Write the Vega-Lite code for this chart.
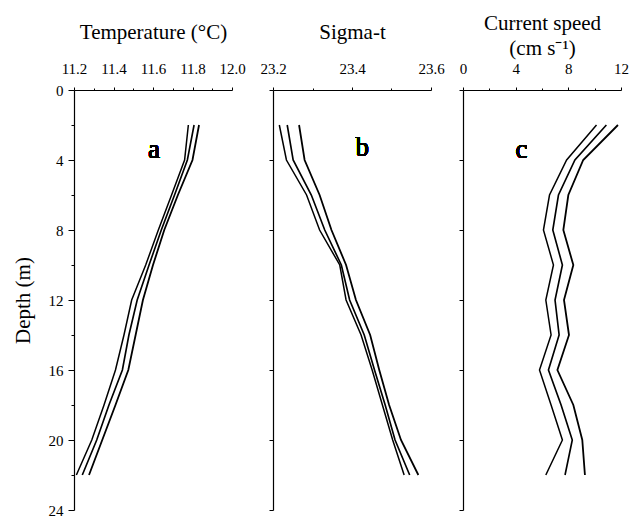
{
  "$schema": "https://vega.github.io/schema/vega-lite/v6.json",
  "padding": {"left": 12, "top": 12, "right": 5, "bottom": 2},
  "background": "white",
  "data": {"values": [
    {"panel": "a", "series": "lo", "depth": 2, "value": 11.779},
    {"panel": "a", "series": "lo", "depth": 4, "value": 11.76},
    {"panel": "a", "series": "lo", "depth": 6, "value": 11.694},
    {"panel": "a", "series": "lo", "depth": 8, "value": 11.627},
    {"panel": "a", "series": "lo", "depth": 10, "value": 11.563},
    {"panel": "a", "series": "lo", "depth": 12, "value": 11.492},
    {"panel": "a", "series": "lo", "depth": 14, "value": 11.453},
    {"panel": "a", "series": "lo", "depth": 16, "value": 11.41},
    {"panel": "a", "series": "lo", "depth": 18, "value": 11.352},
    {"panel": "a", "series": "lo", "depth": 20, "value": 11.29},
    {"panel": "a", "series": "lo", "depth": 22, "value": 11.212},
    {"panel": "a", "series": "mean", "depth": 2, "value": 11.808},
    {"panel": "a", "series": "mean", "depth": 4, "value": 11.774},
    {"panel": "a", "series": "mean", "depth": 6, "value": 11.709},
    {"panel": "a", "series": "mean", "depth": 8, "value": 11.642},
    {"panel": "a", "series": "mean", "depth": 10, "value": 11.58},
    {"panel": "a", "series": "mean", "depth": 12, "value": 11.52},
    {"panel": "a", "series": "mean", "depth": 14, "value": 11.478},
    {"panel": "a", "series": "mean", "depth": 16, "value": 11.445},
    {"panel": "a", "series": "mean", "depth": 18, "value": 11.377},
    {"panel": "a", "series": "mean", "depth": 20, "value": 11.315},
    {"panel": "a", "series": "mean", "depth": 22, "value": 11.242},
    {"panel": "a", "series": "hi", "depth": 2, "value": 11.833},
    {"panel": "a", "series": "hi", "depth": 4, "value": 11.8},
    {"panel": "a", "series": "hi", "depth": 6, "value": 11.726},
    {"panel": "a", "series": "hi", "depth": 8, "value": 11.657},
    {"panel": "a", "series": "hi", "depth": 10, "value": 11.6},
    {"panel": "a", "series": "hi", "depth": 12, "value": 11.549},
    {"panel": "a", "series": "hi", "depth": 14, "value": 11.512},
    {"panel": "a", "series": "hi", "depth": 16, "value": 11.475},
    {"panel": "a", "series": "hi", "depth": 18, "value": 11.41},
    {"panel": "a", "series": "hi", "depth": 20, "value": 11.343},
    {"panel": "a", "series": "hi", "depth": 22, "value": 11.276},
    {"panel": "b", "series": "lo", "depth": 2, "value": 23.216},
    {"panel": "b", "series": "lo", "depth": 4, "value": 23.234},
    {"panel": "b", "series": "lo", "depth": 6, "value": 23.285},
    {"panel": "b", "series": "lo", "depth": 8, "value": 23.318},
    {"panel": "b", "series": "lo", "depth": 10, "value": 23.369},
    {"panel": "b", "series": "lo", "depth": 12, "value": 23.385},
    {"panel": "b", "series": "lo", "depth": 14, "value": 23.423},
    {"panel": "b", "series": "lo", "depth": 16, "value": 23.451},
    {"panel": "b", "series": "lo", "depth": 18, "value": 23.477},
    {"panel": "b", "series": "lo", "depth": 20, "value": 23.503},
    {"panel": "b", "series": "lo", "depth": 22, "value": 23.532},
    {"panel": "b", "series": "mean", "depth": 2, "value": 23.236},
    {"panel": "b", "series": "mean", "depth": 4, "value": 23.251},
    {"panel": "b", "series": "mean", "depth": 6, "value": 23.297},
    {"panel": "b", "series": "mean", "depth": 8, "value": 23.331},
    {"panel": "b", "series": "mean", "depth": 10, "value": 23.373},
    {"panel": "b", "series": "mean", "depth": 12, "value": 23.394},
    {"panel": "b", "series": "mean", "depth": 14, "value": 23.431},
    {"panel": "b", "series": "mean", "depth": 16, "value": 23.457},
    {"panel": "b", "series": "mean", "depth": 18, "value": 23.484},
    {"panel": "b", "series": "mean", "depth": 20, "value": 23.509},
    {"panel": "b", "series": "mean", "depth": 22, "value": 23.546},
    {"panel": "b", "series": "hi", "depth": 2, "value": 23.266},
    {"panel": "b", "series": "hi", "depth": 4, "value": 23.28},
    {"panel": "b", "series": "hi", "depth": 6, "value": 23.318},
    {"panel": "b", "series": "hi", "depth": 8, "value": 23.348},
    {"panel": "b", "series": "hi", "depth": 10, "value": 23.385},
    {"panel": "b", "series": "hi", "depth": 12, "value": 23.41},
    {"panel": "b", "series": "hi", "depth": 14, "value": 23.446},
    {"panel": "b", "series": "hi", "depth": 16, "value": 23.469},
    {"panel": "b", "series": "hi", "depth": 18, "value": 23.494},
    {"panel": "b", "series": "hi", "depth": 20, "value": 23.524},
    {"panel": "b", "series": "hi", "depth": 22, "value": 23.568},
    {"panel": "c", "series": "lo", "depth": 2, "value": 10.14},
    {"panel": "c", "series": "lo", "depth": 4, "value": 7.87},
    {"panel": "c", "series": "lo", "depth": 6, "value": 6.57},
    {"panel": "c", "series": "lo", "depth": 8, "value": 6.11},
    {"panel": "c", "series": "lo", "depth": 10, "value": 6.87},
    {"panel": "c", "series": "lo", "depth": 12, "value": 6.29},
    {"panel": "c", "series": "lo", "depth": 14, "value": 6.69},
    {"panel": "c", "series": "lo", "depth": 16, "value": 5.81},
    {"panel": "c", "series": "lo", "depth": 18, "value": 6.69},
    {"panel": "c", "series": "lo", "depth": 20, "value": 7.55},
    {"panel": "c", "series": "lo", "depth": 22, "value": 6.29},
    {"panel": "c", "series": "mean", "depth": 2, "value": 10.89},
    {"panel": "c", "series": "mean", "depth": 4, "value": 8.5},
    {"panel": "c", "series": "mean", "depth": 6, "value": 7.25},
    {"panel": "c", "series": "mean", "depth": 8, "value": 6.82},
    {"panel": "c", "series": "mean", "depth": 10, "value": 7.55},
    {"panel": "c", "series": "mean", "depth": 12, "value": 6.99},
    {"panel": "c", "series": "mean", "depth": 14, "value": 7.3},
    {"panel": "c", "series": "mean", "depth": 16, "value": 6.49},
    {"panel": "c", "series": "mean", "depth": 18, "value": 7.45},
    {"panel": "c", "series": "mean", "depth": 20, "value": 8.3},
    {"panel": "c", "series": "mean", "depth": 22, "value": 7.75},
    {"panel": "c", "series": "hi", "depth": 2, "value": 11.77},
    {"panel": "c", "series": "hi", "depth": 4, "value": 9.13},
    {"panel": "c", "series": "hi", "depth": 6, "value": 8.0},
    {"panel": "c", "series": "hi", "depth": 8, "value": 7.62},
    {"panel": "c", "series": "hi", "depth": 10, "value": 8.38},
    {"panel": "c", "series": "hi", "depth": 12, "value": 7.67},
    {"panel": "c", "series": "hi", "depth": 14, "value": 8.05},
    {"panel": "c", "series": "hi", "depth": 16, "value": 7.17},
    {"panel": "c", "series": "hi", "depth": 18, "value": 8.38},
    {"panel": "c", "series": "hi", "depth": 20, "value": 9.06},
    {"panel": "c", "series": "hi", "depth": 22, "value": 9.26}
  ]},
  "spacing": 13,
  "hconcat": [
    {
      "width": 158, "height": 420,
      "transform": [{"filter": "datum.panel === 'a'"}],
      "resolve": {"axis": {"x": "independent", "y": "independent"}},
      "layer": [
        {
          "mark": {"type": "line", "color": "black"},
          "encoding": {
            "x": {"field": "value", "type": "quantitative",
              "scale": {"domain": [11.2, 12.0], "nice": false, "zero": false},
              "axis": {"orient": "top", "title": "Temperature (°C)", "labelOverlap": false, "format": ".1f",
                "values": [11.2, 11.4, 11.6, 11.8, 12.0]}},
            "y": {"field": "depth", "type": "quantitative",
              "scale": {"domain": [0, 24], "reverse": true, "nice": false},
              "axis": {"orient": "left", "title": "Depth (m)", "values": [0, 4, 8, 12, 16, 20, 24], "tickSize": 6, "labelPadding": 5, "titlePadding": 15, "labelOverlap": false}},
            "detail": {"field": "series"},
            "order": {"field": "depth", "type": "quantitative"},
            "strokeWidth": {"field": "series", "type": "nominal",
              "scale": {"domain": ["lo", "mean", "hi"], "range": [1.5, 1.8, 1.5]}, "legend": null}
          }
        },
        {
          "mark": {"type": "text", "fontSize": 27, "font": "Liberation Serif", "fontWeight": "normal", "color": "black"},
          "encoding": {
            "x": {"datum": 11.605, "type": "quantitative",
              "axis": {"orient": "top", "title": null, "labels": false, "domain": false, "tickSize": 2, "values": [11.3, 11.5, 11.7, 11.9]}},
            "y": {"datum": 3.4, "type": "quantitative",
              "axis": {"orient": "left", "title": null, "labels": false, "domain": false, "tickSize": 3, "values": [2, 6, 10, 14, 18, 22]}},
            "text": {"value": "a"}
          }
        }
      ]
    },
    {
      "width": 158, "height": 420,
      "transform": [{"filter": "datum.panel === 'b'"}],
      "resolve": {"axis": {"x": "independent"}},
      "layer": [
        {
          "mark": {"type": "line", "color": "black"},
          "encoding": {
            "x": {"field": "value", "type": "quantitative",
              "scale": {"domain": [23.2, 23.6], "nice": false, "zero": false},
              "axis": {"orient": "top", "title": "Sigma-t", "labelOverlap": false, "format": ".1f",
                "values": [23.2, 23.4, 23.6]}},
            "y": {"field": "depth", "type": "quantitative",
              "scale": {"domain": [0, 24], "reverse": true, "nice": false},
              "axis": {"title": null, "labels": false, "tickSize": 4, "values": [0, 2, 4, 6, 8, 10, 12, 14, 16, 18, 20, 22, 24]}},
            "detail": {"field": "series"},
            "order": {"field": "depth", "type": "quantitative"},
            "strokeWidth": {"field": "series", "type": "nominal",
              "scale": {"domain": ["lo", "mean", "hi"], "range": [1.3, 2.2, 1.3]}, "legend": null}
          }
        },
        {
          "mark": {"type": "text", "fontSize": 27, "font": "Liberation Serif", "fontWeight": "normal", "color": "black"},
          "encoding": {
            "x": {"datum": 23.426, "type": "quantitative",
              "axis": {"orient": "top", "title": null, "labels": false, "domain": false, "tickSize": 2, "values": [23.3, 23.5]}},
            "y": {"datum": 3.3, "type": "quantitative"},
            "text": {"value": "b"}
          }
        }
      ]
    },
    {
      "width": 158, "height": 420,
      "transform": [{"filter": "datum.panel === 'c'"}],
      "resolve": {"axis": {"x": "independent"}},
      "layer": [
        {
          "mark": {"type": "line", "color": "black"},
          "encoding": {
            "x": {"field": "value", "type": "quantitative",
              "scale": {"domain": [0, 12], "nice": false},
              "axis": {"orient": "top", "title": ["Current speed", "(cm s⁻¹)"], "titlePadding": 3, "titleLineHeight": 25, "labelOverlap": false,
                "values": [0, 4, 8, 12]}},
            "y": {"field": "depth", "type": "quantitative",
              "scale": {"domain": [0, 24], "reverse": true, "nice": false},
              "axis": {"title": null, "labels": false, "tickSize": 4, "values": [0, 2, 4, 6, 8, 10, 12, 14, 16, 18, 20, 22, 24]}},
            "detail": {"field": "series"},
            "order": {"field": "depth", "type": "quantitative"},
            "strokeWidth": {"field": "series", "type": "nominal",
              "scale": {"domain": ["lo", "mean", "hi"], "range": [1.3, 2.4, 1.3]}, "legend": null}
          }
        },
        {
          "mark": {"type": "text", "fontSize": 27, "font": "Liberation Serif", "fontWeight": "normal", "color": "black"},
          "encoding": {
            "x": {"datum": 4.45, "type": "quantitative",
              "axis": {"orient": "top", "title": null, "labels": false, "domain": false, "tickSize": 2, "values": [2, 6, 10]}},
            "y": {"datum": 3.4, "type": "quantitative"},
            "text": {"value": "c"}
          }
        }
      ]
    }
  ],
  "config": {
    "font": "Liberation Serif",
    "view": {"stroke": null},
    "text": {"fontWeight": "normal"},
    "axis": {
      "grid": false,
      "domainColor": "black",
      "domainWidth": 1.2,
      "tickColor": "black",
      "tickSize": 5,
      "labelColor": "black",
      "titleColor": "black",
      "labelFont": "Liberation Serif",
      "titleFont": "Liberation Serif",
      "labelFontSize": 15,
      "titleFontSize": 21,
      "titleFontWeight": "normal",
      "labelFlush": false,
      "labelOverlap": false,
      "labelPadding": 4
    },
    "axisTop": {"tickSize": 3, "labelPadding": 11, "titlePadding": 19}
  }
}
